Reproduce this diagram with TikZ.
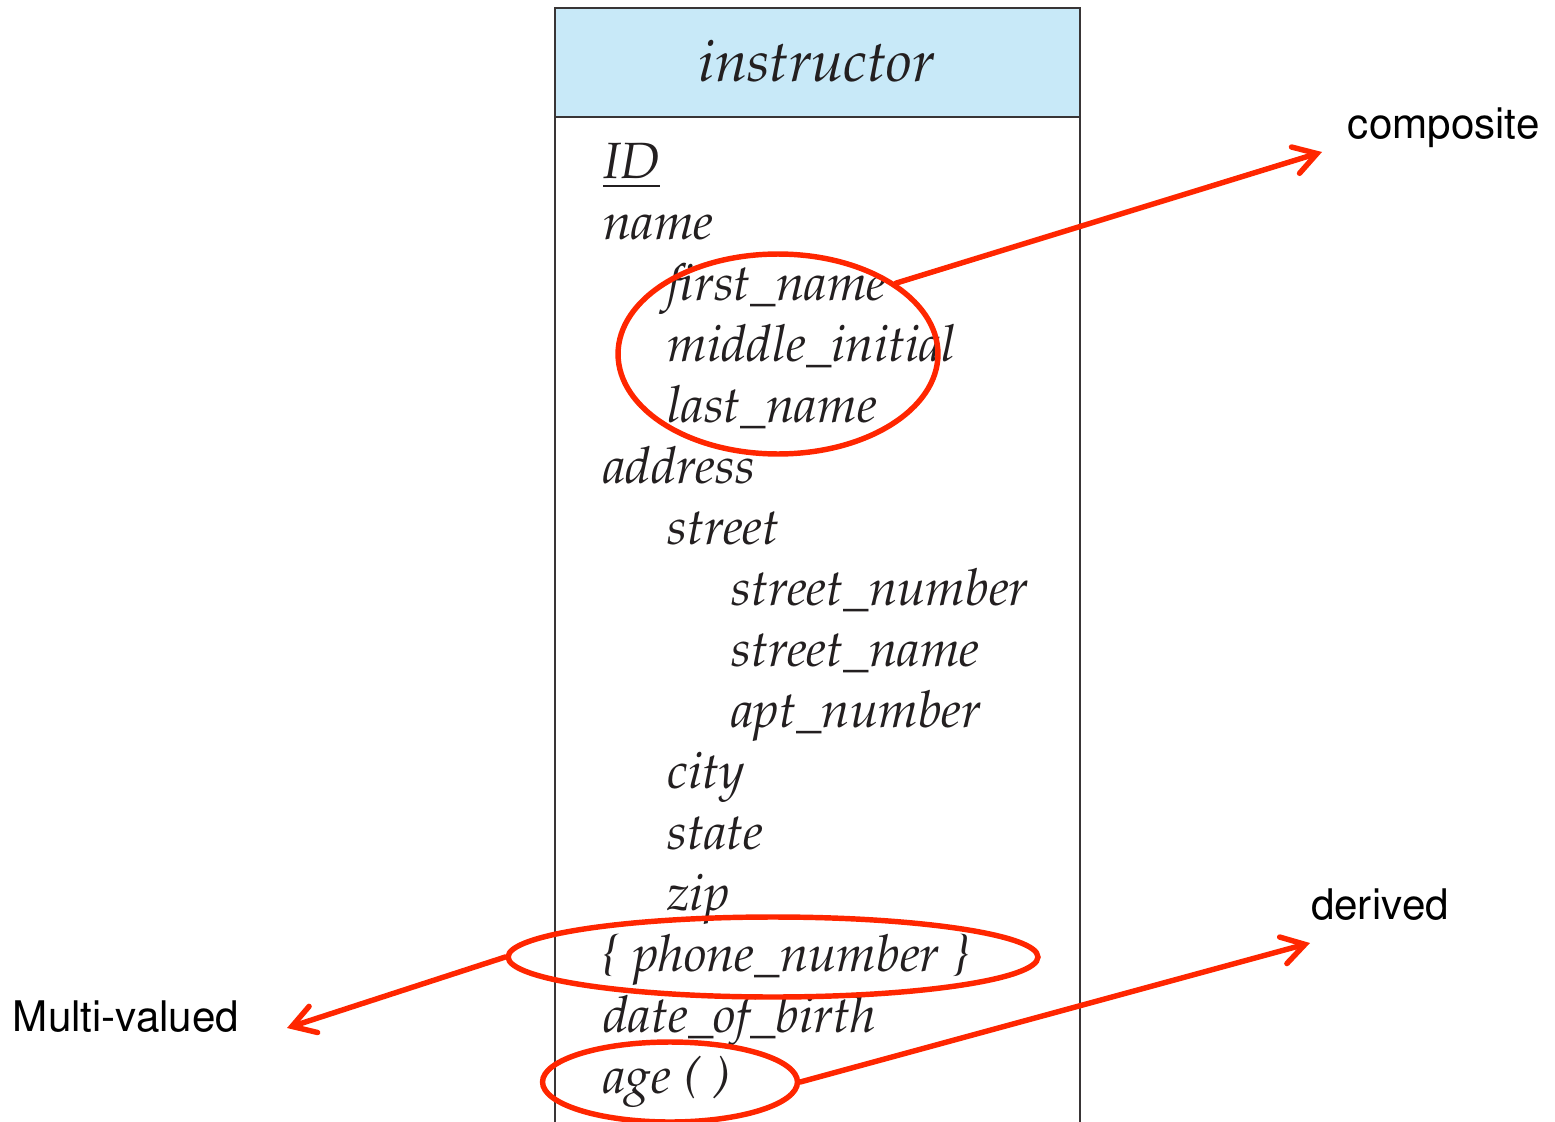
\documentclass[tikz,border=0pt]{standalone}
\usepackage[T1]{fontenc}
\usepackage{mathpazo}
\usepackage{helvet}
\usepackage{tikz}
\usetikzlibrary{shapes.geometric,arrows.meta}
\definecolor{hdrblue}{HTML}{C8E9F8}
\definecolor{markred}{HTML}{FF2600}
\definecolor{inkgray}{HTML}{231F20}

\begin{document}
\begin{tikzpicture}[x=0.02cm, y=-0.02cm,
    attr/.style = {anchor=base west, inner sep=0pt, text=inkgray, font=\fontsize{29}{35}\selectfont\itshape},
    ring/.style = {draw=markred, line width=3.1pt, ellipse, inner sep=0pt},
    note/.style = {font=\fontsize{24}{28}\selectfont\sffamily, inner sep=0pt},
    pointer/.style = {draw=markred, line width=3.1pt, line cap=round,
      -{Straight Barb[length=4.5mm, width=5.5mm, line cap=round]}}]
  \useasboundingbox (0,0) rectangle (1555,1122);

  % entity box
  \fill[hdrblue] (555,8) rectangle (1080,117);
  \draw[line width=1.1pt, inkgray!90] (555,1122) -- (555,8) -- (1080,8) -- (1080,1122);
  \draw[line width=1.1pt, inkgray!90] (555,117) -- (1080,117);
  \node[anchor=base, inner sep=0pt, text=inkgray, font=\fontsize{33}{40}\selectfont\itshape] (title) at (817,82) {instructor};

  % attributes, level/text
  \foreach \lvl/\txt [count=\i from 0] in {0/\underline{ID}, 0/name, 1/first\_name, 1/middle\_initial,
      1/last\_name, 0/address, 1/street, 2/street\_number, 2/street\_name, 2/apt\_number,
      1/city, 1/state, 1/zip, 0/\{ phone\_number \}, 0/date\_of\_birth, 0/age ( )}
    \node[attr] (a\i) at (603+64*\lvl, 178+61*\i) {\txt};

  % marks
  \node[ring, minimum width=6.4cm, minimum height=4cm] (compRing) at (778,354) {};
  \node[ring, minimum width=10.6cm, minimum height=1.6cm] (multiRing) at (773,957) {};
  \node[ring, minimum width=5.1cm, minimum height=1.6cm] (ageRing) at (670,1082) {};

  % labels
  \node[note] (composite) at (1444,128) {composite};
  \node[note] (derived) at (1380,905) {derived};
  \node[note] (multi) at (126,1017) {Multi-valued};
  \coordinate (compTip) at (1322,152);
  \coordinate (derTip) at (1310,943);
  \coordinate (multiTip) at (287,1028);

  \draw[pointer] (compRing.31) -- (compTip);
  \draw[pointer] (ageRing.east) -- (derTip);
  \draw[pointer] (multiRing.west) -- (multiTip);
\end{tikzpicture}
\end{document}
